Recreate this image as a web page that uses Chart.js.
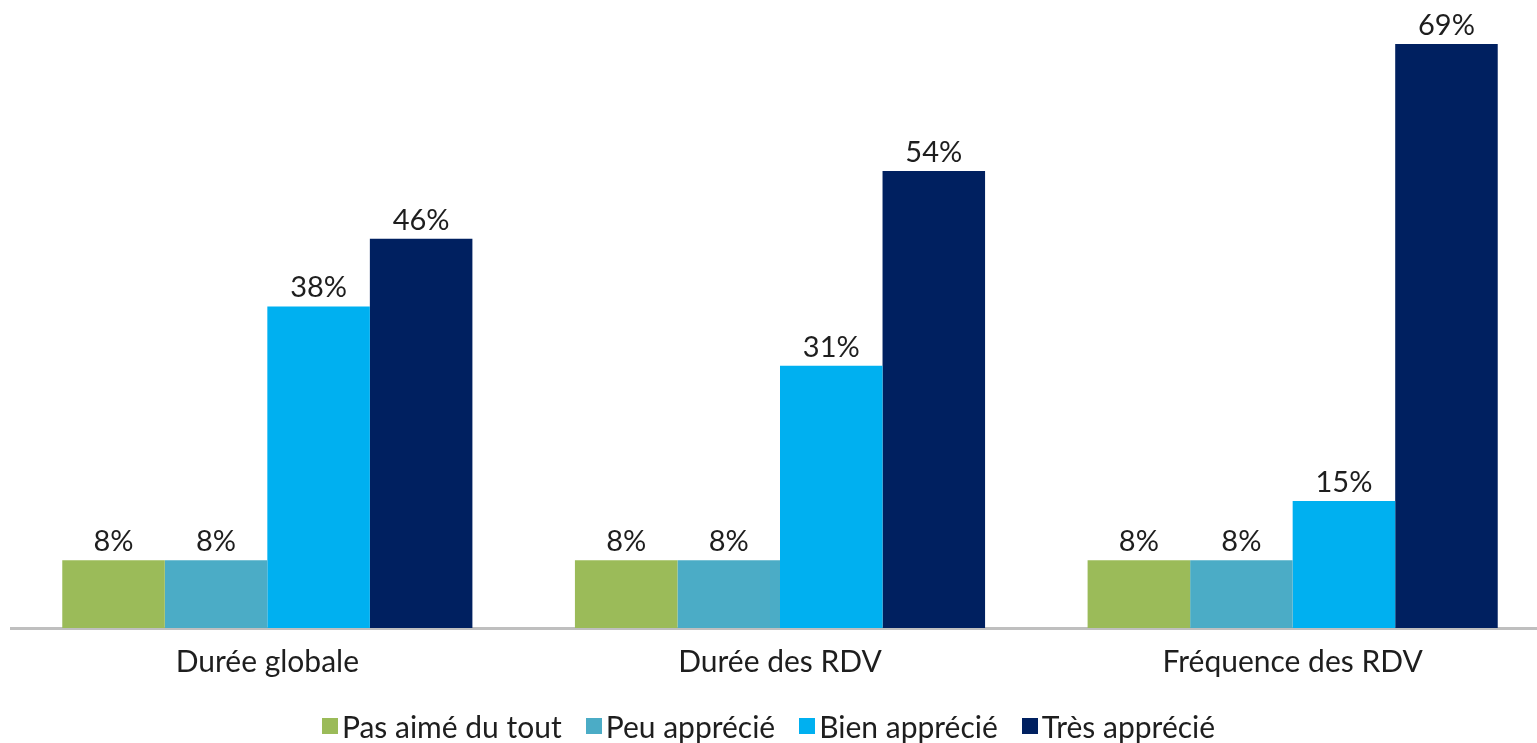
<!DOCTYPE html>
<html>
<head>
<meta charset="utf-8">
<script src="https://cdn.jsdelivr.net/npm/chart.js@4/dist/chart.umd.min.js"></script>
<style>
  html,body{margin:0;padding:0;background:#fff;overflow:hidden}
  #wrap{position:absolute;left:0;top:0;width:1549px;height:743px}
  #legend{position:absolute;left:0;top:708px;width:1537px;display:flex;justify-content:center;
    font-family:Lato,sans-serif;font-size:30px;color:#1e1e1e}
  #legend span{display:flex;align-items:center;margin:0 12px}
  #legend i{display:inline-block;width:16px;height:16px;margin-right:4px}
</style>
</head>
<body>
<div id="wrap"><canvas id="c"></canvas></div>
<div id="legend"></div>
<script>
'use strict';
// ── DATA ──────────────────────────────────────────────────────
const categories = ['Durée globale', 'Durée des RDV', 'Fréquence des RDV'];
const seriesNames = ['Pas aimé du tout', 'Peu apprécié', 'Bien apprécié', 'Très apprécié'];
const pasAime  = [8, 8, 8];
const peuAppr  = [8, 8, 8];
const bienAppr = [38, 31, 15];
const tresAppr = [46, 54, 69];
const colors = ['#9BBB59', '#4BACC6', '#00B0F0', '#002060'];

// ── LABELS ON BARS ────────────────────────────────────────────
const barLabels = {
  id: 'barLabels',
  afterDatasetsDraw(chart) {
    const ctx = chart.ctx;
    ctx.save();
    ctx.font = '29px Lato';
    ctx.fillStyle = '#1e1e1e';
    ctx.textAlign = 'center';
    ctx.textBaseline = 'alphabetic';
    chart.data.datasets.forEach((ds, i) => {
      chart.getDatasetMeta(i).data.forEach((bar, j) => {
        ctx.fillText(ds.data[j] + '%', bar.x, bar.y - 9);
      });
    });
    ctx.restore();
  }
};

const series = [pasAime, peuAppr, bienAppr, tresAppr];
new Chart(document.getElementById('c'), {
  type: 'bar',
  data: {
    labels: categories,
    datasets: series.map((d, i) => ({
      label: seriesNames[i],
      data: d,
      backgroundColor: colors[i],
      categoryPercentage: 0.8,
      barPercentage: 1.0
    }))
  },
  options: {
    responsive: true,
    maintainAspectRatio: false,
    animation: false,
    layout: { padding: { left: 11, top: 0, right: 0, bottom: 55 } },
    plugins: { legend: { display: false }, tooltip: { enabled: false } },
    scales: {
      x: {
        grid: { display: false },
        border: { display: true, color: '#BFBFBF', width: 3 },
        ticks: { color: '#1e1e1e', font: { family: 'Lato', size: 30 }, padding: 8 }
      },
      y: { display: false, min: 0, max: 74.2 }
    }
  },
  plugins: [barLabels]
});

// ── LEGEND ────────────────────────────────────────────────────
document.getElementById('legend').innerHTML = seriesNames
  .map((n, i) => `<span><i style="background:${colors[i]}"></i>${n}</span>`).join('');
</script>
</body>
</html>
